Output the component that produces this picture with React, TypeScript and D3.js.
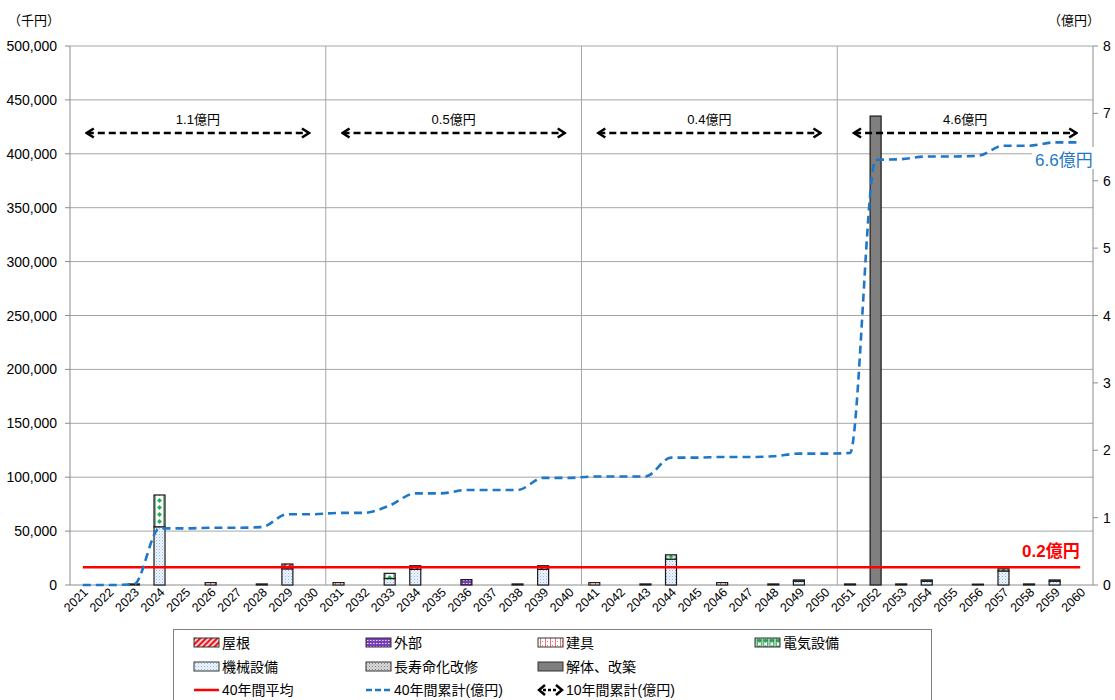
import React from 'react';
import * as d3 from 'd3';

const years = ['2021','2022','2023','2024','2025','2026','2027','2028','2029','2030','2031','2032','2033','2034','2035','2036','2037','2038','2039','2040','2041','2042','2043','2044','2045','2046','2047','2048','2049','2050','2051','2052','2053','2054','2055','2056','2057','2058','2059','2060'];

// values in thousand yen
const roof =       [0,0,0,0,0,0,0,0,4500,0, 0,0,0,3400,0,0,0,0,3400,0, 0,0,0,0,0,0,0,0,0,0, 0,0,0,0,0,0,0,0,0,0];
const exterior =   [0,0,0,0,0,0,0,0,0,0, 0,0,0,0,0,5000,0,0,0,0, 0,0,0,0,0,0,0,0,0,0, 0,0,0,0,0,0,0,0,0,0];
const fittings =   [0,0,1000,0,0,2200,0,1000,0,0, 2200,0,0,0,0,0,0,1000,0,0, 2200,0,1000,0,0,2200,0,1000,1200,0, 1000,0,1000,1200,0,800,0,1000,1200,0];
const electrical = [0,0,0,29500,0,0,0,0,0,0, 0,0,4800,0,0,0,0,0,0,0, 0,0,0,4000,0,0,0,0,0,0, 0,0,0,0,0,0,2000,0,0,0];
const mechanical = [0,0,0,54000,0,0,0,0,15000,0, 0,0,6000,14500,0,0,0,0,14500,0, 0,0,0,24000,0,0,0,0,3500,0, 0,0,0,3500,0,0,13000,0,3500,0];
const longevity =  [0,0,0,0,0,0,0,0,0,0, 0,0,0,0,0,0,0,0,0,0, 0,0,0,0,0,0,0,0,0,0, 0,0,0,0,0,0,0,0,0,0];
const demolition = [0,0,0,0,0,0,0,0,0,0, 0,0,0,0,0,0,0,0,0,0, 0,0,0,0,0,0,0,0,0,0, 0,435000,0,0,0,0,0,0,0,0];

// cumulative, 100 million yen
const cumulative = [0,0,0.01,0.84,0.84,0.85,0.85,0.86,1.05,1.05, 1.07,1.07,1.18,1.36,1.36,1.41,1.41,1.41,1.59,1.59, 1.61,1.61,1.61,1.89,1.89,1.90,1.90,1.91,1.95,1.95, 1.96,6.31,6.32,6.36,6.36,6.37,6.52,6.52,6.57,6.57];
const average40 = 16400; // thousand yen

const decadeStart = ['2021','2031','2041','2051'];
const decadeEnd = ['2030','2040','2050','2060'];
const decadeLabels = ['1.1億円','0.5億円','0.4億円','4.6億円'];

const leftTicks = [0,50000,100000,150000,200000,250000,300000,350000,400000,450000,500000];
const rightTicks = [0,1,2,3,4,5,6,7,8];

const seriesOrder = ['mechanical','electrical','exterior','fittings','roof','longevity','demolition'];
const seriesData: Record<string, number[]> = { roof, exterior, fittings, electrical, mechanical, longevity, demolition };
const fills: Record<string, string> = {
  roof: 'url(#p-roof)', exterior: 'url(#p-ext)', fittings: 'url(#p-fit)', electrical: 'url(#p-elec)',
  mechanical: 'url(#p-mech)', longevity: 'url(#p-long)', demolition: '#7f7f7f'
};

const FONT = '"Liberation Sans", Arial, "Noto Sans CJK JP", sans-serif';

export default function App() {
  const L = 70, R = 1093, T = 46, B = 585;
  const x = d3.scaleBand().domain(years).range([L, R]).padding(0);
  const yL = d3.scaleLinear().domain([0, 500000]).range([B, T]);
  const yR = d3.scaleLinear().domain([0, 8]).range([B, T]);
  const cx = (yr: string) => (x(yr) as number) + x.bandwidth() / 2;
  const barW = x.bandwidth() * 0.43;

  const rows = years.map((yr, i) => {
    const r: any = { year: yr };
    seriesOrder.forEach(k => { r[k] = seriesData[k][i]; });
    return r;
  });
  const stacked = d3.stack().keys(seriesOrder)(rows);

  const line = d3.line<number>()
    .x((_, i) => cx(years[i]))
    .y(d => yR(d))
    .curve(d3.curveMonotoneX);

  const fmt = d3.format(',');
  const gridColor = '#a6a6a6';
  const axisColor = '#8c8c8c';

  const legendItems1 = [
    { key: 'roof', label: '屋根', x: 194 },
    { key: 'exterior', label: '外部', x: 366 },
    { key: 'fittings', label: '建具', x: 538 },
    { key: 'electrical', label: '電気設備', x: 755 },
  ];
  const legendItems2 = [
    { key: 'mechanical', label: '機械設備', x: 194 },
    { key: 'longevity', label: '長寿命化改修', x: 366 },
    { key: 'demolition', label: '解体、改築', x: 538 },
  ];

  const elecPattern = (id: string, x0: number, w: number) => (
    <pattern key={id} id={id} x={x0} y={0} width={w} height={7} patternUnits="userSpaceOnUse">
      <rect width={w} height={7} fill="#fff" />
      <path d={`M${w / 2},1 L${w / 2 + 2.4},3.5 L${w / 2},6 L${w / 2 - 2.4},3.5 Z`} fill="#19b34a" />
      <rect x={0.6} y={0} width={0.9} height={7} fill="#0b6b2a" />
      <rect x={w - 1.5} y={0} width={0.9} height={7} fill="#0b6b2a" />
    </pattern>
  );

  return (
    <svg width={1115} height={700} style={{ position: 'absolute', left: 0, top: 0, background: '#fff' }} fontFamily={FONT}>
      <defs>
        <pattern id="p-roof" width="4" height="4" patternUnits="userSpaceOnUse" patternTransform="rotate(45)">
          <rect width="4" height="4" fill="#ffd0d0" />
          <rect width="2" height="4" fill="#e8141c" />
        </pattern>
        <pattern id="p-ext" width="3" height="3" patternUnits="userSpaceOnUse">
          <rect width="3" height="3" fill="#7a3db8" />
          <rect x="1" y="1" width="1.5" height="1" fill="#e8dcf6" />
        </pattern>
        <pattern id="p-fit" width="5" height="4" patternUnits="userSpaceOnUse">
          <rect width="5" height="4" fill="#fff" />
          <rect x="0" y="0" width="1" height="4" fill="#f07070" />
          <rect x="2" y="1" width="1" height="1" fill="#f07070" />
        </pattern>
        {elecPattern('p-elec', 0, 6.25)}
        {years.map((yr, i) => electrical[i] ? elecPattern('p-elec-' + yr, cx(yr) - barW / 2, barW) : null)}
        <pattern id="p-mech" width="3" height="3" patternUnits="userSpaceOnUse">
          <rect width="3" height="3" fill="#eef5fc" />
          <rect x="0" y="0" width="1" height="1" fill="#8db6e2" />
          <rect x="1.5" y="1.5" width="1" height="1" fill="#b5d0ee" />
        </pattern>
        <pattern id="p-long" width="3" height="3" patternUnits="userSpaceOnUse">
          <rect width="3" height="3" fill="#d9d9d9" />
          <rect x="0" y="0" width="1" height="1" fill="#7f7f7f" />
          <rect x="1.5" y="1.5" width="1" height="1" fill="#9f9f9f" />
        </pattern>
        <marker id="arrowR" viewBox="0 0 12 12" refX="10" refY="6" markerWidth="12" markerHeight="12" markerUnits="userSpaceOnUse" orient="auto">
          <path d="M3,1.5 L10,6 L3,10.5" fill="none" stroke="#000" strokeWidth="2.6" />
        </marker>
        <marker id="arrowL" viewBox="0 0 12 12" refX="2" refY="6" markerWidth="12" markerHeight="12" markerUnits="userSpaceOnUse" orient="auto">
          <path d="M9,1.5 L2,6 L9,10.5" fill="none" stroke="#000" strokeWidth="2.6" />
        </marker>
      </defs>

      {/* horizontal gridlines */}
      {leftTicks.map(t => (
        <line key={'g' + t} x1={L} x2={R} y1={yL(t)} y2={yL(t)} stroke={t === 0 ? axisColor : gridColor} strokeWidth={1} />
      ))}
      {/* decade separators */}
      {decadeStart.slice(1).map(yr => (
        <line key={'v' + yr} x1={x(yr)} x2={x(yr)} y1={T} y2={B} stroke={gridColor} strokeWidth={1} />
      ))}
      {/* axes */}
      <line x1={L} x2={L} y1={T} y2={B} stroke={axisColor} />
      <line x1={R} x2={R} y1={T} y2={B} stroke={axisColor} />
      {leftTicks.map(t => (
        <g key={'lt' + t}>
          <line x1={L - 5} x2={L} y1={yL(t)} y2={yL(t)} stroke={axisColor} />
          <text x={57} y={yL(t) + 5} textAnchor="end" fontSize={14} fill="#000">{fmt(t)}</text>
        </g>
      ))}
      {rightTicks.map(t => (
        <g key={'rt' + t}>
          <line x1={R} x2={R + 5} y1={yR(t)} y2={yR(t)} stroke={axisColor} />
          <text x={1103} y={yR(t) + 5} textAnchor="start" fontSize={14} fill="#000">{t}</text>
        </g>
      ))}
      <text x={8} y={25} fontSize={13} fill="#000">（千円）</text>
      <text x={1048} y={25} fontSize={13} fill="#000">（億円）</text>

      {/* x axis labels */}
      {years.map(yr => (
        <text key={'xl' + yr} transform={`translate(${cx(yr) + 6},${B + 8}) rotate(-45)`} textAnchor="end" fontSize={12.5} fill="#000">{yr}</text>
      ))}

      {/* bars */}
      {stacked.map(s => (
        <g key={s.key}>
          {s.map((d, i) => {
            const v = d[1] - d[0];
            if (!v) return null;
            const fill = s.key === 'electrical' ? `url(#p-elec-${years[i]})` : fills[s.key];
            return (
              <rect key={i} x={cx(years[i]) - barW / 2} width={barW} y={yL(d[1])} height={yL(d[0]) - yL(d[1])}
                fill={fill} stroke="#1a1a1a" strokeWidth={1.2} />
            );
          })}
        </g>
      ))}

      {/* 40-year average */}
      <line x1={cx(years[0])} x2={cx(years[years.length - 1])} y1={yL(average40)} y2={yL(average40)} stroke="#ff0000" strokeWidth={2.5} />

      {/* cumulative line */}
      <path d={line(cumulative) as string} fill="none" stroke="#1f77c8" strokeWidth={2.6} strokeDasharray="8,5" />

      {/* decade arrows */}
      {decadeStart.map((s, i) => {
        const x1 = cx(s) + 1, x2 = cx(decadeEnd[i]) - 1;
        return (
          <g key={'d' + s}>
            <line x1={x1 + 3} x2={x2 - 3} y1={133} y2={133} stroke="#000" strokeWidth={2.5} strokeDasharray="7,4"
              markerStart="url(#arrowL)" markerEnd="url(#arrowR)" />
            <text x={(x1 + x2) / 2} y={124} textAnchor="middle" fontSize={13} fill="#000">{decadeLabels[i]}</text>
          </g>
        );
      })}

      {/* labels */}
      <rect x={1032} y={147} width={66} height={22} fill="#fff" />
      <text x={1035} y={166} fontSize={17} fill="#1f77c8">6.6億円</text>
      <text x={1022} y={557} fontSize={17} fontWeight="bold" fill="#ff0000">0.2億円</text>

      {/* legend */}
      <rect x={173.5} y={629.5} width={758} height={80} fill="#fff" stroke="#7f7f7f" strokeWidth={1} />
      {legendItems1.map(it => (
        <g key={it.key}>
          <rect x={it.x} y={638} width={25} height={9} fill={fills[it.key]} stroke="#333" strokeWidth={1} />
          <text x={it.x + 28} y={648} fontSize={14} fill="#000">{it.label}</text>
        </g>
      ))}
      {legendItems2.map(it => (
        <g key={it.key}>
          <rect x={it.x} y={662} width={25} height={9} fill={fills[it.key]} stroke="#333" strokeWidth={1} />
          <text x={it.x + 28} y={672} fontSize={14} fill="#000">{it.label}</text>
        </g>
      ))}
      <line x1={194} x2={219} y1={690} y2={690} stroke="#ff0000" strokeWidth={2.5} />
      <text x={222} y={695} fontSize={14} fill="#000">40年間平均</text>
      <line x1={366} x2={392} y1={690} y2={690} stroke="#1f77c8" strokeWidth={2.5} strokeDasharray="6,3" />
      <text x={394} y={695} fontSize={14} fill="#000">40年間累計(億円)</text>
      <line x1={543} x2={558} y1={690} y2={690} stroke="#000" strokeWidth={2.5} strokeDasharray="3,2" />
      <path d="M545,685 L539,690 L545,695" fill="none" stroke="#000" strokeWidth={2.5} />
      <path d="M556,685 L562,690 L556,695" fill="none" stroke="#000" strokeWidth={2.5} />
      <text x={566} y={695} fontSize={14} fill="#000">10年間累計(億円)</text>
    </svg>
  );
}
